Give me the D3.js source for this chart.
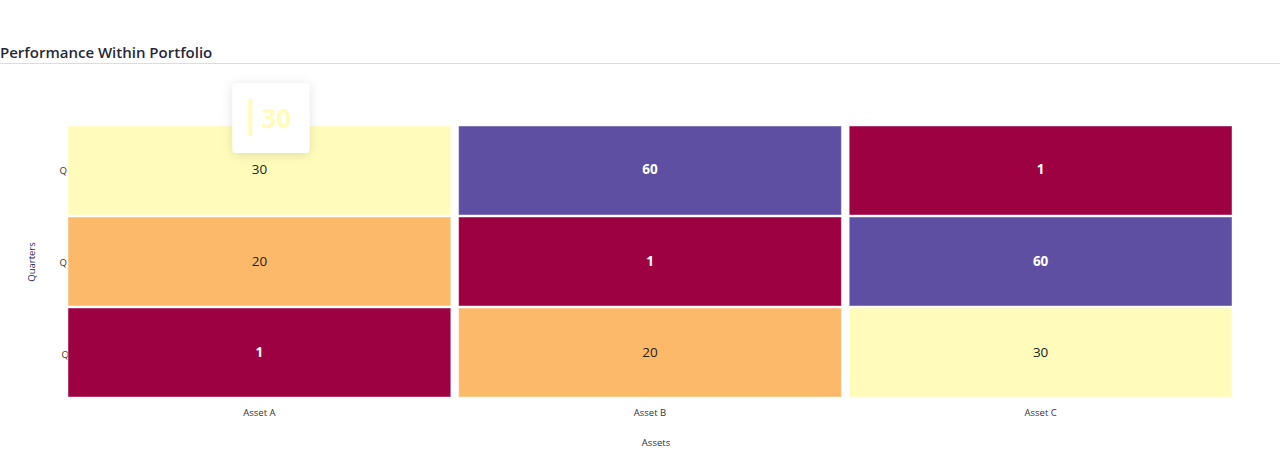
<!DOCTYPE html>
<html>
<head>
<meta charset="utf-8">
<script src="https://cdn.jsdelivr.net/npm/d3@7"></script>
<style>
  html, body { margin: 0; padding: 0; background: #fff; }
  body { width: 1280px; height: 454px; overflow: hidden; font-family: "Open Sans", "Noto Sans", sans-serif; }
</style>
</head>
<body>
<svg id="chart" width="1280" height="454"></svg>
<script>
// ---- data ----
const assets = ["Asset A", "Asset B", "Asset C"];
const quarters = ["Q1", "Q2", "Q3"];           // top to bottom
const quarterLabels = ["Q", "Q", "Q"];          // as displayed (truncated)
const valuesQ1 = [30, 60, 1];
const valuesQ2 = [20, 1, 60];
const valuesQ3 = [1, 20, 30];
const title = "Performance Within Portfolio";
const xTitle = "Assets";
const yTitle = "Quarters";
const tooltipValue = 30;

const rows = [valuesQ1, valuesQ2, valuesQ3];
const cells = [];
quarters.forEach((q, i) => assets.forEach((a, j) => cells.push({ q, a, v: rows[i][j] })));

const svg = d3.select("#chart");
const font = '"Open Sans", "Noto Sans", sans-serif';

// title + rule
svg.append("text").attr("x", 0).attr("y", 58)
  .attr("font-family", font).attr("font-size", 15).attr("font-weight", 600)
  .attr("fill", "#252a3a").text(title);
svg.append("line").attr("x1", 0).attr("x2", 1280).attr("y1", 63.5).attr("y2", 63.5)
  .attr("stroke", "#dcdcdc").attr("stroke-width", 1);

const x = d3.scaleBand().domain(assets).range([68, 1232]).paddingInner(0.02).paddingOuter(0);
const y = d3.scaleBand().domain(quarters).range([126, 397]).paddingInner(0.022).paddingOuter(0);
const spectral = d3.schemeSpectral[11];
const color = d3.scaleLinear()
  .domain(spectral.map((c, i) => 1 + 59 * i / (spectral.length - 1)))
  .range(spectral)
  .interpolate(d3.interpolateRgb);

// y axis labels (drawn before cells)
const yOff = [0, 0, 2];
svg.append("g").selectAll("text").data(quarters).join("text")
  .attr("x", (d, i) => 67 + yOff[i])
  .attr("y", (d, i) => y(d) + y.bandwidth() / 2 + 4 + (i === 2 ? 1 : 0))
  .attr("text-anchor", "end")
  .attr("font-family", font).attr("font-size", 9.5).attr("fill", "#333")
  .text((d, i) => quarterLabels[i]);

// cells
svg.append("g").selectAll("rect").data(cells).join("rect")
  .attr("x", d => x(d.a)).attr("y", d => y(d.q))
  .attr("width", x.bandwidth()).attr("height", y.bandwidth())
  .attr("fill", d => color(d.v))
  .attr("stroke", "rgba(255,255,255,0.45)").attr("stroke-width", 1);

// cell labels
const dark = v => { const c = d3.hsl(color(v)); return c.l > 0.6; };
svg.append("g").selectAll("text").data(cells).join("text")
  .attr("x", d => x(d.a) + x.bandwidth() / 2)
  .attr("y", d => y(d.q) + y.bandwidth() / 2 + 4)
  .attr("text-anchor", "middle")
  .attr("font-family", font).attr("font-size", 13.5)
  .attr("font-weight", d => dark(d.v) ? 400 : 700)
  .attr("fill", d => dark(d.v) ? "#222222" : "#ffffff")
  .text(d => d.v);

// x axis labels
svg.append("g").selectAll("text").data(assets).join("text")
  .attr("x", d => x(d) + x.bandwidth() / 2).attr("y", 416)
  .attr("text-anchor", "middle")
  .attr("font-family", font).attr("font-size", 9.5).attr("fill", "#333")
  .text(d => d);

svg.append("text").attr("x", 656).attr("y", 446).attr("text-anchor", "middle")
  .attr("font-family", font).attr("font-size", 9.5).attr("fill", "#333").text(xTitle);
svg.append("text").attr("transform", "translate(35,262) rotate(-90)").attr("text-anchor", "middle")
  .attr("font-family", font).attr("font-size", 9.5).attr("fill", "#2a2a55").text(yTitle);

// tooltip
const defs = svg.append("defs");
const f = defs.append("filter").attr("id", "shadow").attr("x", "-50%").attr("y", "-50%").attr("width", "200%").attr("height", "200%");
f.append("feDropShadow").attr("dx", 0).attr("dy", 2).attr("stdDeviation", 6).attr("flood-color", "#000").attr("flood-opacity", 0.12);
const tipCell = cells[0];
const tx = x(tipCell.a) + x.bandwidth() / 2 - 27, ty = y(tipCell.q) - 43;
const tip = svg.append("g").attr("transform", `translate(${tx},${ty})`);
tip.append("rect").attr("width", 77).attr("height", 70).attr("rx", 4)
  .attr("fill", "#fff").attr("filter", "url(#shadow)");
tip.append("rect").attr("x", 16).attr("y", 16).attr("width", 4).attr("height", 37)
  .attr("fill", color(tooltipValue)).attr("rx", 1);
tip.append("text").attr("x", 29).attr("y", 45)
  .attr("font-family", font).attr("font-size", 26).attr("font-weight", 700)
  .attr("fill", color(tooltipValue)).text(tooltipValue);
</script>
</body>
</html>
